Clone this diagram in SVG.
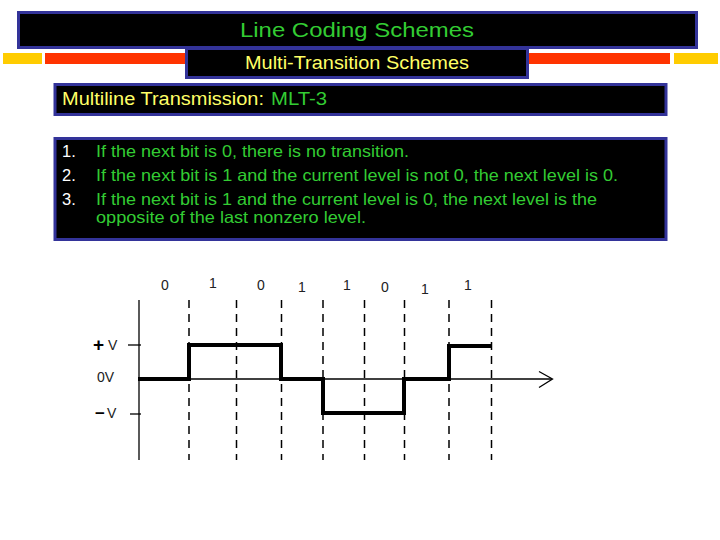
<svg xmlns="http://www.w3.org/2000/svg" width="720" height="540" viewBox="0 0 720 540">
<style>
.box{fill:#000;stroke:#333399;stroke-width:3}
.t{font-family:"Liberation Sans",Arial,sans-serif}
.g{fill:#33cc33}
.y{fill:#ffff66}
.w{fill:#fff}
.dash{stroke:#000;stroke-width:1.5;stroke-dasharray:8 6;fill:none}
.axis{stroke:#000;stroke-width:1.3;fill:none}
.sig{stroke:#000;stroke-width:4;fill:none;stroke-linejoin:miter;stroke-linecap:square}
.lbl{font-family:"Liberation Sans",Arial,sans-serif;font-size:14px;fill:#222}
</style>
<rect x="0" y="0" width="720" height="540" fill="#fff"/>
<g id="bars">
<rect x="3" y="53" width="39" height="11" fill="#ffcc00"/>
<rect x="45" y="53" width="625" height="11" fill="#ff3300"/>
<rect x="674" y="53" width="44" height="11" fill="#ffcc00"/>
</g>
<g id="title">
<rect class="box" x="18.5" y="12.5" width="678" height="35"/>
<text class="t g" x="240" y="37" font-size="21" textLength="234" lengthAdjust="spacingAndGlyphs">Line Coding Schemes</text>
</g>
<g id="subtitle">
<rect class="box" x="186.5" y="48.5" width="341" height="29"/>
<text class="t y" x="245" y="69" font-size="18" textLength="224" lengthAdjust="spacingAndGlyphs">Multi-Transition Schemes</text>
</g>
<g id="heading">
<rect class="box" x="55" y="84.5" width="611" height="30"/>
<text class="t y" x="62" y="105" font-size="18" textLength="202" lengthAdjust="spacingAndGlyphs">Multiline Transmission:</text>
<text class="t g" x="271" y="105" font-size="18" textLength="56" lengthAdjust="spacingAndGlyphs">MLT-3</text>
</g>
<g id="rules">
<rect class="box" x="55" y="138.5" width="611" height="101"/>
<g class="t" font-size="16.5">
<text class="w" x="62" y="157">1.</text>
<text class="w" x="62" y="181">2.</text>
<text class="w" x="62" y="205">3.</text>
<text class="g" x="96" y="157" textLength="313" lengthAdjust="spacingAndGlyphs">If the next bit is 0, there is no transition.</text>
<text class="g" x="96" y="181" textLength="522" lengthAdjust="spacingAndGlyphs">If the next bit is 1 and the current level is not 0, the next level is 0.</text>
<text class="g" x="96" y="205" textLength="501" lengthAdjust="spacingAndGlyphs">If the next bit is 1 and the current level is 0, the next level is the</text>
<text class="g" x="96" y="223" textLength="270" lengthAdjust="spacingAndGlyphs">opposite of the last nonzero level.</text>
</g>
</g>
<g id="chart">
<g id="grid">
<line class="dash" x1="189" y1="300" x2="189" y2="460"/>
<line class="dash" x1="236.5" y1="300" x2="236.5" y2="460"/>
<line class="dash" x1="281.5" y1="300" x2="281.5" y2="460"/>
<line class="dash" x1="323" y1="300" x2="323" y2="460"/>
<line class="dash" x1="364.5" y1="300" x2="364.5" y2="460"/>
<line class="dash" x1="404.5" y1="300" x2="404.5" y2="460"/>
<line class="dash" x1="449" y1="300" x2="449" y2="460"/>
<line class="dash" x1="491.5" y1="300" x2="491.5" y2="460"/>
</g>
<g id="axes">
<line class="axis" x1="139" y1="300" x2="139" y2="460"/>
<line class="axis" x1="139" y1="379" x2="552" y2="379"/>
<polyline class="axis" points="539,371.5 552.5,379 539,387.5" stroke-width="1.6"/>
<line class="axis" x1="128" y1="345" x2="141" y2="345" stroke-width="1.6"/>
<line class="axis" x1="130" y1="414" x2="141" y2="414" stroke-width="1.6"/>
</g>
<g id="levels">
<text class="t" x="93" y="351" font-size="19" font-weight="bold" fill="#000">+</text>
<text class="lbl" x="108" y="350">V</text>
<text class="lbl" x="97" y="382">0V</text>
<text class="t" x="95" y="419" font-size="17" font-weight="bold" fill="#000">−</text>
<text class="lbl" x="107" y="418">V</text>
</g>
<g id="bits">
<text class="lbl" x="165" y="290" text-anchor="middle">0</text>
<text class="lbl" x="213" y="288" text-anchor="middle">1</text>
<text class="lbl" x="261" y="290" text-anchor="middle">0</text>
<text class="lbl" x="302" y="292" text-anchor="middle">1</text>
<text class="lbl" x="347" y="290" text-anchor="middle">1</text>
<text class="lbl" x="385" y="292" text-anchor="middle">0</text>
<text class="lbl" x="425" y="294" text-anchor="middle">1</text>
<text class="lbl" x="468" y="290" text-anchor="middle">1</text>
</g>
<g id="signal">
<polyline class="sig" points="140,379 189,379 189,345 281,345 281,379 323,379 323,413 404,413 404,379 449,379 449,346 490,346"/>
</g>
</g>
</svg>
